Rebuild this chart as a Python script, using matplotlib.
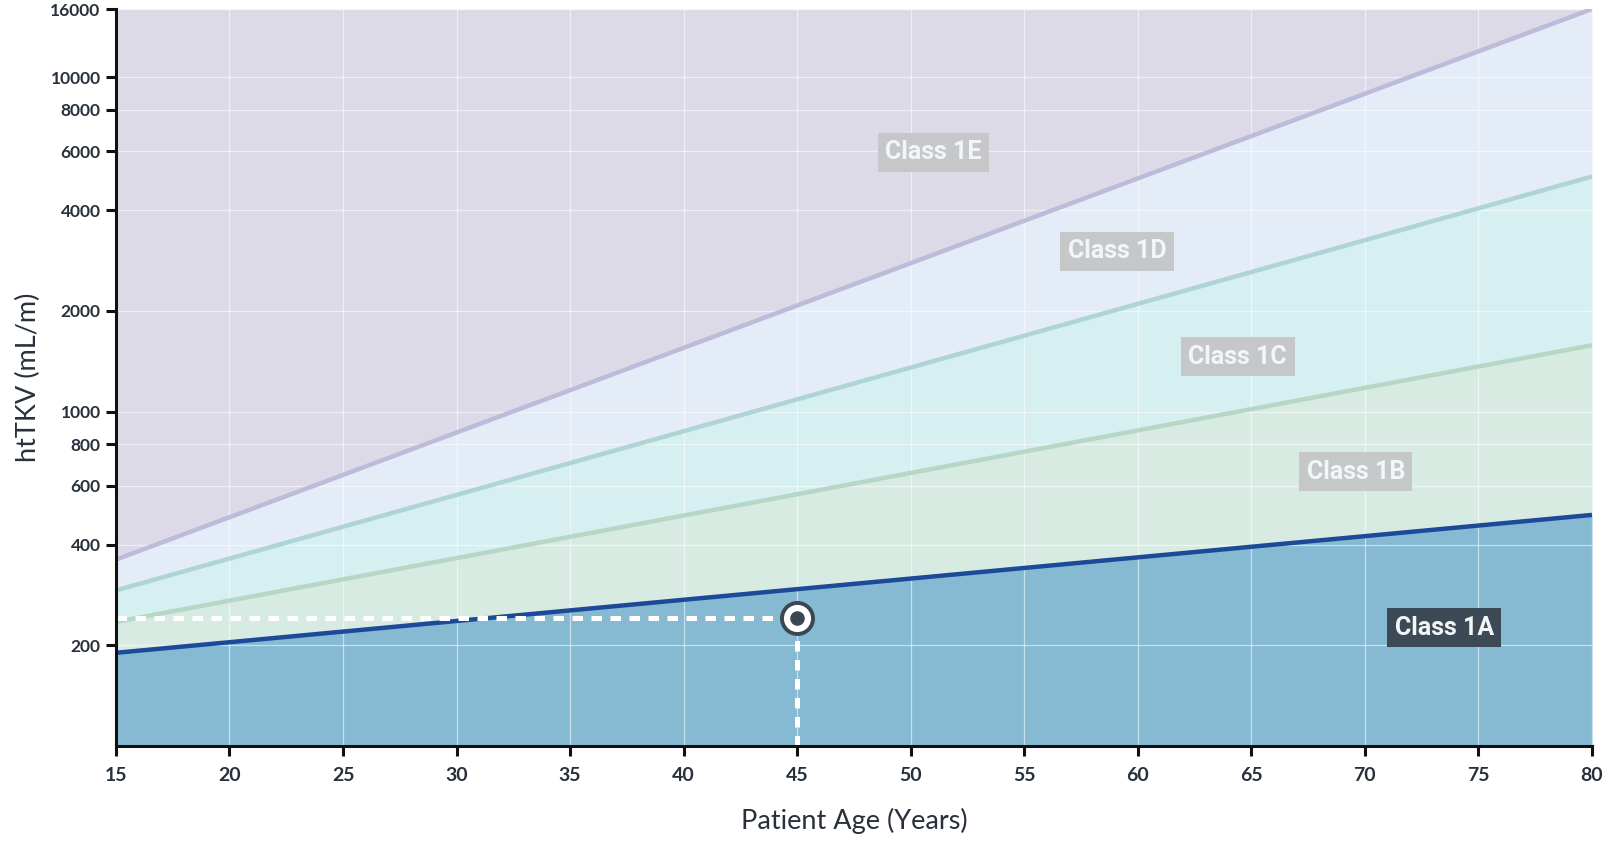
import matplotlib
matplotlib.use("Agg")
import matplotlib.pyplot as plt
import numpy as np

# Data
ages = [15, 80]
line_1a_1b = [190, 491]
line_1b_1c = [235, 1580]
line_1c_1d = [292, 5050]
line_1d_1e = [361, 16000]
y_floor = 100
y_ceiling = 16000

patient_age = 45
patient_httkv = 241

class_names = ["Class 1A", "Class 1B", "Class 1C", "Class 1D", "Class 1E"]
label_ages = [73.5, 69.6, 64.4, 59.1, 51.0]
label_vals = [226, 661, 1459, 3013, 5972]

x_ticks = [15, 20, 25, 30, 35, 40, 45, 50, 55, 60, 65, 70, 75, 80]
y_ticks = [200, 400, 600, 800, 1000, 2000, 4000, 6000, 8000, 10000, 16000]

# Styles
fill_colors = ["#86BAD3", "#D8EBE3", "#D6EFF1", "#E4ECF7", "#DCDAE7"]
line_colors = ["#1C4A98", "#B6D6C6", "#AFD4D4", "#BDBBDA"]
text_dark = "#28313B"

fig = plt.figure(figsize=(16.1, 8.44), dpi=100)
ax = fig.add_axes([0.0720, 0.1161, 0.9168, 0.8732])
ax.set_yscale("log")

bounds = [[y_floor, y_floor], line_1a_1b, line_1b_1c, line_1c_1d, line_1d_1e, [y_ceiling, y_ceiling]]
for i in range(5):
    ax.fill_between(ages, bounds[i], bounds[i + 1], color=fill_colors[i], lw=0, zorder=1)

ax.plot(ages, line_1d_1e, color=line_colors[3], lw=3.2, zorder=3, solid_capstyle="butt")
ax.plot(ages, line_1c_1d, color=line_colors[2], lw=3.2, zorder=3, solid_capstyle="butt")
ax.plot(ages, line_1b_1c, color=line_colors[1], lw=3.2, zorder=3, solid_capstyle="butt")
ax.plot(ages, line_1a_1b, color=line_colors[0], lw=3.2, zorder=4, solid_capstyle="butt")

# Grid
ax.set_xticks(x_ticks)
ax.set_yticks(y_ticks)
ax.yaxis.set_minor_locator(matplotlib.ticker.NullLocator())
ax.set_yticklabels([str(v) for v in y_ticks])
ax.set_xticklabels([str(v) for v in x_ticks])
ax.grid(True, color="white", lw=0.9, alpha=0.55, zorder=2)
ax.set_axisbelow(False)
for gl in ax.get_xgridlines() + ax.get_ygridlines():
    gl.set_zorder(2)

# Dashed guides
ax.plot([ages[0], patient_age], [patient_httkv, patient_httkv], color="white", lw=3.6,
        dashes=(2.1, 1.7), zorder=5)
ax.plot([patient_age, patient_age], [y_floor, patient_httkv], color="white", lw=3.6,
        dashes=(2.1, 1.7), zorder=5)
ax.scatter([patient_age], [patient_httkv], s=500, facecolor="white", edgecolor="#3A4753",
           linewidths=2.8, zorder=6, clip_on=False)
ax.scatter([patient_age], [patient_httkv], s=110, color="#3A4753", lw=0, zorder=7)

# Class labels
for i, (name, xa, yv) in enumerate(zip(class_names, label_ages, label_vals)):
    fc = "#3C4A57" if i == 0 else "#C6C7C9"
    ax.text(xa, yv, name, ha="center", va="center", fontsize=18, fontweight="bold",
            family="Roboto", color="#F4F5F6", zorder=8,
            bbox=dict(boxstyle="square,pad=0.3", fc=fc, ec="none"))

ax.set_xlim(15, 80)
ax.set_ylim(y_floor, y_ceiling)

for s in ["top", "right"]:
    ax.spines[s].set_visible(False)
for s in ["left", "bottom"]:
    ax.spines[s].set_linewidth(2.2)
    ax.spines[s].set_color("#111111")
    ax.spines[s].set_zorder(9)

ax.tick_params(axis="both", which="major", length=7, width=2.2, color="#111111",
               labelcolor=text_dark)
ax.tick_params(axis="x", labelsize=14, pad=8)
ax.tick_params(axis="y", labelsize=12.5, pad=4)
for lab in ax.get_xticklabels() + ax.get_yticklabels():
    lab.set_fontweight("bold")
    lab.set_family("Lato")

ax.set_xlabel("Patient Age (Years)", fontsize=19.5, family="Lato", color=text_dark, labelpad=17)
ax.set_ylabel("htTKV (mL/m)", fontsize=19.5, family="Lato", color=text_dark, labelpad=7)

fig.savefig("out.png", dpi=100)
